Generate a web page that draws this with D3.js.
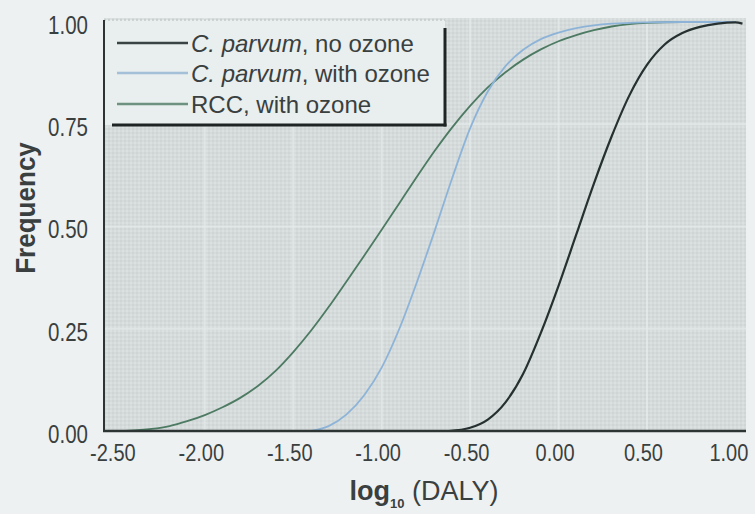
<!DOCTYPE html>
<html>
<head>
<meta charset="utf-8">
<script src="https://cdn.jsdelivr.net/npm/d3@7"></script>
<style>
  html, body { margin: 0; padding: 0; background: #eef1f1; }
  svg { display: block; }
  text { font-family: "Liberation Sans", Arial, sans-serif; fill: #3a3f40; }
</style>
</head>
<body>
<svg id="chart" width="755" height="514"></svg>
<script>
// Cumulative distributions of log10(DALY)
const xTicks = [-2.5, -2.0, -1.5, -1.0, -0.5, 0.0, 0.5, 1.0];
const xTickLabels = ["-2.50", "-2.00", "-1.50", "-1.00", "-0.50", "0.00", "0.50", "1.00"];
const yTicks = [0, 0.25, 0.5, 0.75, 1.0];
const yTickLabels = ["0.00", "0.25", "0.50", "0.75", "1.00"];
const gridX = [-2.0, -1.5, -1.0, -0.5, 0.0, 0.5];
const gridY = [0.25, 0.5, 0.75];

const seriesNames = ["C. parvum, no ozone", "C. parvum, with ozone", "RCC, with ozone"];

const noOzoneX = [-0.62, -0.5, -0.4, -0.3, -0.2, -0.1, 0.0, 0.1, 0.2, 0.3, 0.4, 0.5, 0.6, 0.7, 0.8, 0.9, 1.0, 1.04];
const noOzoneY = [0, 0.008, 0.028, 0.07, 0.14, 0.24, 0.355, 0.48, 0.605, 0.72, 0.82, 0.895, 0.945, 0.973, 0.988, 0.996, 0.999, 0.996];

const withOzoneX = [-1.4, -1.3, -1.2, -1.1, -1.0, -0.9, -0.8, -0.7, -0.6, -0.5, -0.4, -0.3, -0.2, -0.1, 0.0, 0.1, 0.2, 0.3, 0.4, 0.5, 0.7, 1.0];
const withOzoneY = [0, 0.012, 0.04, 0.087, 0.155, 0.25, 0.365, 0.49, 0.62, 0.74, 0.83, 0.892, 0.932, 0.958, 0.974, 0.985, 0.992, 0.996, 0.998, 0.999, 1.0, 1.0];

const rccX = [-2.45, -2.3, -2.2, -2.1, -2.0, -1.9, -1.8, -1.7, -1.6, -1.5, -1.4, -1.3, -1.2, -1.1, -1.0, -0.9, -0.8, -0.7, -0.6, -0.5, -0.4, -0.3, -0.2, -0.1, 0.0, 0.1, 0.2, 0.3, 0.4, 0.5, 0.7, 1.0];
const rccY = [0, 0.005, 0.012, 0.024, 0.039, 0.058, 0.081, 0.11, 0.147, 0.193, 0.245, 0.303, 0.365, 0.428, 0.492, 0.557, 0.622, 0.685, 0.743, 0.795, 0.84, 0.877, 0.908, 0.933, 0.953, 0.968, 0.98, 0.989, 0.995, 0.998, 1.0, 1.0];

const seriesColors = ["#263030", "#8db4d8", "#4c7a62"];
const legendColors = ["#3a4444", "#a4c0d8", "#6d9280"];

const svg = d3.select("#chart");
const plot = { left: 104, right: 746, top: 18, bottom: 431 };

const x = d3.scaleLinear().domain([-2.57, 1.06]).range([plot.left, plot.right]);
const y = d3.scaleLinear().domain([0, 1]).range([plot.bottom, 22]);

// halftone-like texture for the plotting panel
const defs = svg.append("defs");
const pat = defs.append("pattern").attr("id", "screen").attr("width", 4).attr("height", 4)
  .attr("patternUnits", "userSpaceOnUse");
pat.append("rect").attr("width", 4).attr("height", 4).attr("fill", "#d5dada");
pat.append("rect").attr("width", 2).attr("height", 2).attr("fill", "#cfd5d5");
pat.append("rect").attr("x", 2).attr("y", 2).attr("width", 2).attr("height", 2).attr("fill", "#dbe0e0");

svg.append("rect")
  .attr("x", plot.left).attr("y", plot.top)
  .attr("width", plot.right - plot.left).attr("height", plot.bottom - plot.top)
  .attr("fill", "url(#screen)");

// gridlines
svg.append("g").selectAll("line").data(gridX).join("line")
  .attr("x1", d => x(d)).attr("x2", d => x(d))
  .attr("y1", plot.top).attr("y2", plot.bottom)
  .attr("stroke", "#e6ebeb").attr("stroke-width", 2).attr("opacity", 0.7);
svg.append("g").selectAll("line").data(gridY).join("line")
  .attr("x1", plot.left).attr("x2", plot.right)
  .attr("y1", d => y(d)).attr("y2", d => y(d))
  .attr("stroke", "#e6ebeb").attr("stroke-width", 2).attr("opacity", 0.7);

// legend panel
const lg = { x0: plot.left, y0: 20, x1: 445, y1: 125 };
svg.append("rect")
  .attr("x", lg.x0).attr("y", lg.y0)
  .attr("width", lg.x1 - lg.x0).attr("height", lg.y1 - lg.y0)
  .attr("fill", "#e9eeee");
svg.append("line")
  .attr("x1", lg.x0).attr("x2", lg.x1).attr("y1", lg.y0).attr("y2", lg.y0)
  .attr("stroke", "#c4cccc").attr("stroke-width", 1.5).attr("stroke-dasharray", "2,2");

// curves
const line = d3.line().x(d => x(d[0])).y(d => y(d[1])).curve(d3.curveMonotoneX);
const seriesData = [
  d3.zip(noOzoneX, noOzoneY),
  d3.zip(withOzoneX, withOzoneY),
  d3.zip(rccX, rccY)
];
svg.append("g").selectAll("path").data([2, 1, 0]).join("path")
  .attr("d", i => line(seriesData[i]))
  .attr("fill", "none")
  .attr("stroke", i => seriesColors[i])
  .attr("stroke-width", i => i === 0 ? 2.2 : 1.8)
  .attr("stroke-linejoin", "round");

// legend frame (right and bottom rules)
svg.append("line")
  .attr("x1", lg.x1).attr("x2", lg.x1).attr("y1", 28).attr("y2", lg.y1 + 1.5)
  .attr("stroke", "#1e2424").attr("stroke-width", 3);
svg.append("line")
  .attr("x1", 112).attr("x2", lg.x1 + 1.5).attr("y1", lg.y1).attr("y2", lg.y1)
  .attr("stroke", "#1e2424").attr("stroke-width", 3);

// legend entries
const rowY = [43, 73, 104];
const items = svg.append("g").selectAll("g").data(seriesNames).join("g")
  .attr("transform", (d, i) => `translate(0,${rowY[i]})`);
items.append("line")
  .attr("x1", 117).attr("x2", 188).attr("y1", 0).attr("y2", 0)
  .attr("stroke", (d, i) => legendColors[i]).attr("stroke-width", 2.5);
const itemText = items.append("text")
  .attr("x", 191).attr("y", 8.5)
  .attr("font-size", 24);
itemText.each(function (d) {
  const t = d3.select(this);
  const parts = d.split(", ");
  if (parts[0].startsWith("C.")) {
    t.append("tspan").attr("font-style", "italic").text(parts[0]);
    t.append("tspan").text(", " + parts[1]);
  } else {
    t.text(d);
  }
});

// condensed numerals for tick labels
function condense(sel, k) {
  sel.each(function () {
    const w = this.getComputedTextLength();
    d3.select(this).attr("textLength", w * k).attr("lengthAdjust", "spacingAndGlyphs");
  });
}

// axes
const xAxis = d3.axisBottom(x).tickValues(xTicks).tickSize(0).tickPadding(0)
  .tickFormat((d, i) => xTickLabels[i]);
const gx = svg.append("g").attr("transform", `translate(0,${plot.bottom})`).call(xAxis);
gx.select(".domain").remove();
gx.selectAll("text")
  .attr("y", 30).attr("dy", null)
  .attr("dx", (d, i) => i === xTicks.length - 1 ? -7 : -4)
  .attr("font-size", 23)
  .attr("font-family", "'Liberation Sans', Arial, sans-serif")
  .attr("fill", "#3a3f40")
  .call(condense, 0.87);

const yAxis = d3.axisLeft(y).tickValues(yTicks).tickSize(0).tickPadding(0)
  .tickFormat((d, i) => yTickLabels[i]);
const gy = svg.append("g").attr("transform", `translate(${plot.left},0)`).call(yAxis);
gy.select(".domain").remove();
gy.selectAll("text")
  .attr("x", -16).attr("dy", "0.45em")
  .attr("font-size", 25)
  .attr("font-family", "'Liberation Sans', Arial, sans-serif")
  .attr("fill", "#3a3f40")
  .call(condense, 0.82);

// axis rules
svg.append("line")
  .attr("x1", plot.left).attr("x2", plot.left).attr("y1", 20).attr("y2", plot.bottom + 1)
  .attr("stroke", "#2c3434").attr("stroke-width", 2);
svg.append("line")
  .attr("x1", plot.left - 1).attr("x2", plot.right).attr("y1", plot.bottom).attr("y2", plot.bottom)
  .attr("stroke", "#2c3434").attr("stroke-width", 2.5);

// axis titles
svg.append("text")
  .attr("transform", "translate(35,208) rotate(-90)")
  .attr("text-anchor", "middle")
  .attr("font-size", 28).attr("font-weight", "bold")
  .attr("fill", "#2e3434")
  .text("Frequency")
  .call(condense, 0.93);

const xt = svg.append("text")
  .attr("x", 424).attr("y", 500)
  .attr("text-anchor", "middle")
  .attr("font-size", 27)
  .attr("fill", "#2e3434");
xt.append("tspan").attr("font-weight", "bold").text("log");
xt.append("tspan").attr("font-size", 13).attr("font-weight", "bold").attr("dy", 8).text("10");
xt.append("tspan").attr("dy", -8).text(" (DALY)");
</script>
</body>
</html>
